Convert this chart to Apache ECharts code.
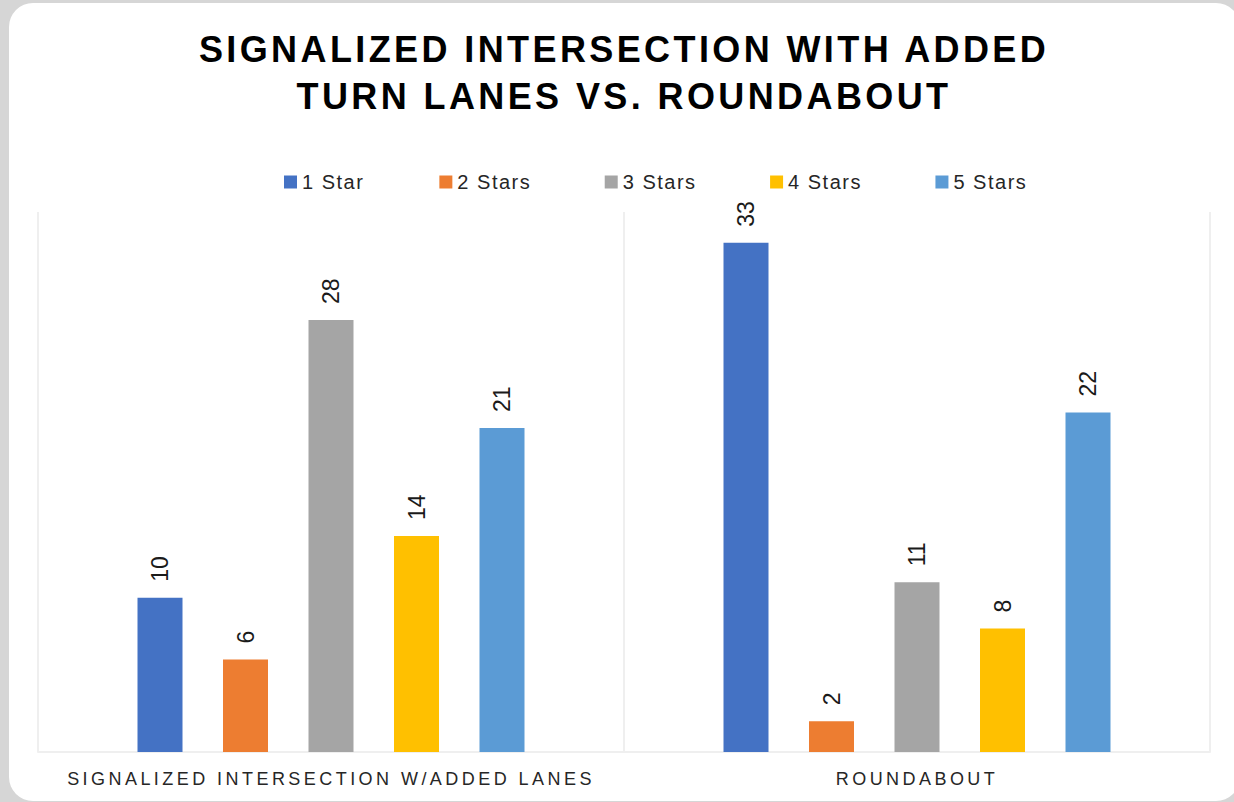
<!DOCTYPE html>
<html>
<head>
<meta charset="utf-8">
<script src="https://cdn.jsdelivr.net/npm/echarts@6/dist/echarts.min.js"></script>
<style>
  html, body { margin: 0; padding: 0; background: #d6d6d6; }
  #chart { width: 1234px; height: 802px; }
  #chart text[style*="36px"] { letter-spacing: 3.4px; }
  #chart text[style*="18px"] { letter-spacing: 3.45px; }
  #chart text[style*="20px"] { letter-spacing: 1.5px; }
</style>
</head>
<body>
<div id="chart"></div>
<script>
const titleText = 'SIGNALIZED INTERSECTION WITH ADDED\nTURN LANES VS. ROUNDABOUT';
const categories = ['SIGNALIZED INTERSECTION W/ADDED LANES', 'ROUNDABOUT'];
const seriesNames = ['1 Star', '2 Stars', '3 Stars', '4 Stars', '5 Stars'];
const star1 = [10, 33];
const star2 = [6, 2];
const star3 = [28, 11];
const star4 = [14, 8];
const star5 = [21, 22];
const seriesValues = [star1, star2, star3, star4, star5];
const colors = ['#4472C4', '#ED7D31', '#A5A5A5', '#FFC000', '#5B9BD5'];

const chart = echarts.init(document.getElementById('chart'), null, { renderer: 'svg' });
const FONT = 'Liberation Sans';

const option = {
  backgroundColor: '#d6d6d6',
  color: colors,
  animation: false,
  graphic: [{
    type: 'rect',
    z: -10,
    silent: true,
    shape: { x: 9, y: 3, width: 1231, height: 798, r: 24 },
    style: { fill: '#ffffff' }
  }],
  title: {
    text: titleText,
    left: 624,
    top: 26,
    padding: 0,
    textAlign: 'center',
    textStyle: {
      fontFamily: FONT,
      fontWeight: 'bold',
      fontSize: 36,
      lineHeight: 47,
      color: '#000000'
    }
  },
  legend: {
    left: 284,
    top: 172,
    padding: 0,
    itemWidth: 13,
    itemHeight: 13,
    itemGap: 84,
    icon: 'rect',
    textStyle: { fontFamily: FONT, fontSize: 20, color: '#262626' },
    data: seriesNames
  },
  grid: { left: 38, right: 24, top: 212, bottom: 50, containLabel: false },
  xAxis: {
    type: 'category',
    data: categories,
    axisTick: { show: false },
    axisLine: { show: true, lineStyle: { color: '#efefef', width: 2 } },
    splitLine: { show: true, lineStyle: { color: '#efefef', width: 2 } },
    axisLabel: { fontFamily: FONT, fontSize: 18, color: '#262626', margin: 18 }
  },
  yAxis: {
    type: 'value',
    min: 0,
    max: 35,
    show: false,
    splitLine: { show: false }
  },
  series: seriesNames.map((name, i) => ({
    name: name,
    type: 'bar',
    data: seriesValues[i],
    barWidth: 45,
    barGap: '90%',
    label: {
      show: true,
      position: 'top',
      distance: 16,
      rotate: 90,
      align: 'left',
      verticalAlign: 'middle',
      fontFamily: FONT,
      fontSize: 23,
      color: '#1a1a1a'
    }
  }))
};
chart.setOption(option);
</script>
</body>
</html>
